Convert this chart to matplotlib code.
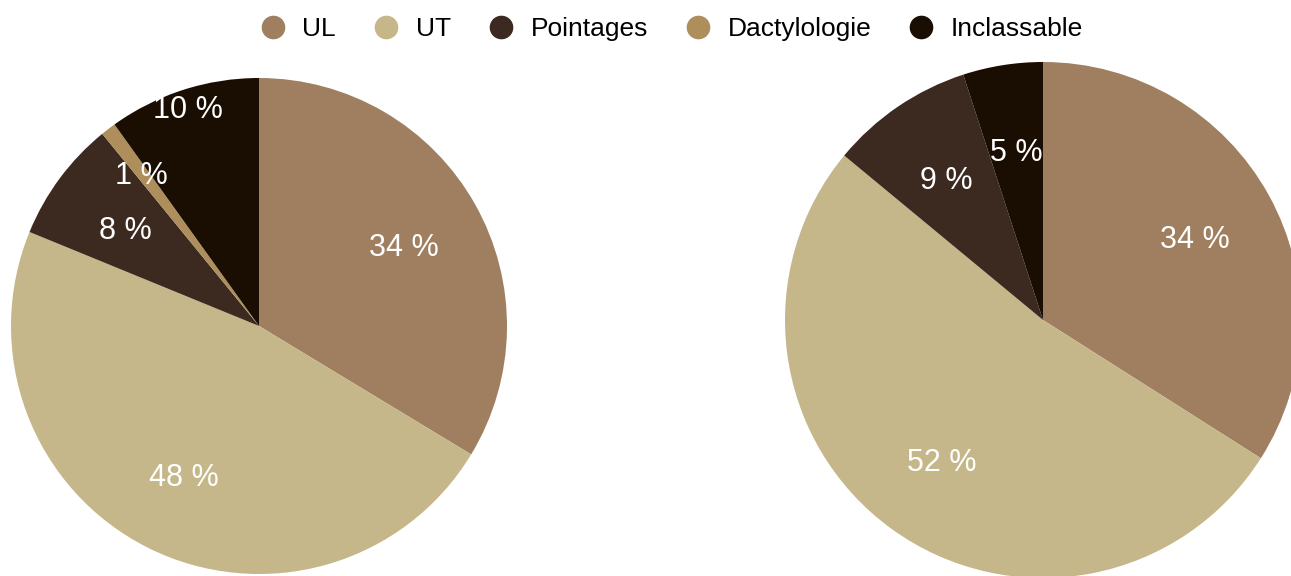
import matplotlib.pyplot as plt
from matplotlib.lines import Line2D
import numpy as np

plt.rcParams['font.family'] = ['Liberation Sans', 'DejaVu Sans']

categories = ["UL", "UT", "Pointages", "Dactylologie", "Inclassable"]
colors = ["#9f7f60", "#c6b78a", "#3c2a20", "#ae8e5a", "#1a0d02"]

left_values = [34, 48, 8, 1, 10]
right_values = [34, 52, 9, 0, 5]

# radial position of each percent label (fraction of radius)
left_label_r = [0.67, 0.67, 0.67, 0.78, 0.93]
right_label_r = [0.67, 0.67, 0.67, 0.67, 0.67]

W, H = 1291, 576
fig = plt.figure(figsize=(W / 100, H / 100), dpi=100)


def draw_pie(cx, cy, r, values, label_r):
    ax = fig.add_axes([(cx - r) / W, (H - cy - r) / H, 2 * r / W, 2 * r / H])
    ax.axis('off')
    vals = np.array(values, dtype=float)
    ax.pie(vals, colors=colors, startangle=90, counterclock=False,
           radius=1, wedgeprops=dict(linewidth=0))
    ax.set_xlim(-1, 1)
    ax.set_ylim(-1, 1)
    total = vals.sum()
    start = 90.0
    for v, d in zip(vals, label_r):
        if v <= 0:
            continue
        span = 360.0 * v / total
        mid = np.deg2rad(start - span / 2)
        ax.text(d * np.cos(mid), d * np.sin(mid), f"{v:.0f} %",
                ha='center', va='center_baseline', color='white', fontsize=22)
        start -= span
    return ax


draw_pie(259, 326, 248, left_values, left_label_r)
draw_pie(1043, 320, 258, right_values, right_label_r)

handles = [Line2D([], [], marker='o', linestyle='', markersize=16,
                  markerfacecolor=c, markeredgecolor=c) for c in colors]
fig.legend(handles, categories, loc='upper center', bbox_to_anchor=(0.52, 1.0),
           ncol=5, frameon=False, fontsize=19, handlelength=1.0,
           handletextpad=0.62, columnspacing=1.4, borderaxespad=0.25)

fig.savefig("out.png", dpi=100)
